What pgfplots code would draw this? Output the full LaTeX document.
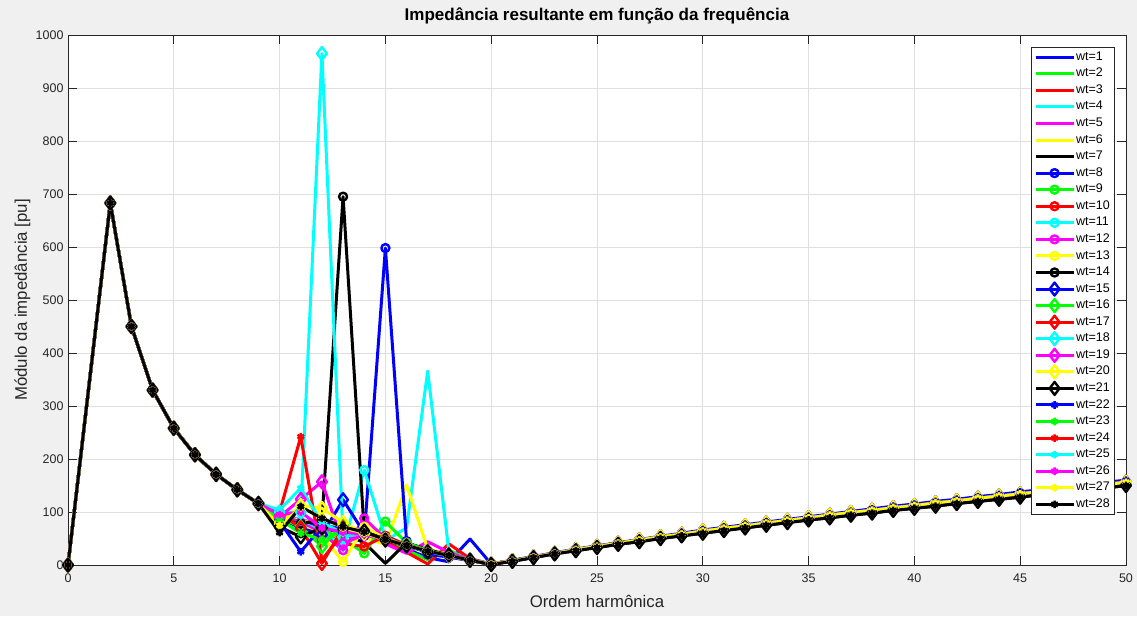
\documentclass[border=0pt]{standalone}
\usepackage{fontspec}
\setmainfont{Liberation Sans}
\usepackage{pgfplots}
\pgfplotsset{compat=1.18}

\definecolor{figbg}{RGB}{240,240,240}
\definecolor{gridc}{RGB}{223,223,223}
\definecolor{axc}{RGB}{38,38,38}
\definecolor{cB}{rgb}{0,0,1}
\definecolor{cG}{rgb}{0,1,0}
\definecolor{cR}{rgb}{1,0,0}
\definecolor{cC}{rgb}{0,1,1}
\definecolor{cM}{rgb}{1,0,1}
\definecolor{cY}{rgb}{1,1,0}
\definecolor{cK}{rgb}{0,0,0}

% Points shared by every wt case (below the resonance region and above h=20)
\def\headpts{(0,0) (2,683) (3,450) (4,330) (5,258) (6,208) (7,171) (8,142) (9,116)}
\def\tailB{(20,1) (21,7) (22,14) (23,21) (24,27) (25,33) (26,39) (27,44) (28,50) (29,55) (30,60) (31,65) (32,70) (33,75) (34,80) (35,85) (36,89) (37,94) (38,98) (39,103) (40,107) (41,111) (42,116) (43,120) (44,124) (45,128) (46,133) (47,137) (48,141) (49,145) (50,150)}
\def\tailA{(20,2) (21,8) (22,15) (23,22) (24,29) (25,35) (26,41) (27,47) (28,53) (29,58) (30,64) (31,69) (32,74) (33,79) (34,84) (35,89) (36,94) (37,99) (38,103) (39,108) (40,112) (41,117) (42,121) (43,126) (44,130) (45,134) (46,139) (47,143) (48,147) (49,152) (50,156)}
\def\tailC{(20,2) (21,9) (22,16) (23,23) (24,30) (25,36) (26,42) (27,48) (28,54) (29,60) (30,66) (31,71) (32,76) (33,81) (34,86) (35,91) (36,96) (37,101) (38,106) (39,111) (40,115) (41,120) (42,124) (43,129) (44,133) (45,138) (46,142) (47,147) (48,151) (49,156) (50,160)}

% #1 style, #2 points for h = 10..19, #3 tail, #4 legend text
\newcommand\wtplotdo[2]{\addplot[#2] coordinates {#1};}
\newcommand\wtplot[4]{%
  \edef\wtcoords{\headpts\space #2\space #3}%
  \expandafter\wtplotdo\expandafter{\wtcoords}{#1}%
  \addlegendentry{#4}}

\pgfplotsset{
  wline/.style={line width=3pt, line join=round, mark options={solid, line width=2.4pt}},
  mnone/.style={wline, mark=none},
  mo/.style={wline, mark=o, mark size=4pt},
  md/.style={wline, mark=diamond, mark size=6.5pt},
  mx/.style={wline, mark=asterisk, mark size=3.8pt},
}

\begin{document}
\begin{tikzpicture}
\fill[figbg] (-68pt,-51pt) rectangle (1069pt,565pt);
\useasboundingbox (-68pt,-51pt) rectangle (1069pt,565pt);
\begin{axis}[
  at={(0pt,0pt)}, anchor=south west,
  width=1058pt, height=530pt, scale only axis,
  xmin=0, xmax=50, ymin=0, ymax=1000,
  xtick={0,5,...,50}, ytick={0,100,...,1000},
  grid=major, major grid style={gridc, line width=0.7pt},
  axis background/.style={fill=white},
  axis line style={axc, line width=0.8pt},
  tick style={axc, line width=0.8pt}, major tick length=9pt,
  tick align=inside, xtick pos=both, ytick pos=both,
  xticklabel pos=lower, yticklabel pos=left,
  ticklabel style={font=\fontsize{12.5}{14}\selectfont, text=axc},
  /pgf/number format/assume math mode=true,
  /pgf/number format/1000 sep={},
  xticklabel style={yshift=-5pt},
  yticklabel style={xshift=-1pt},
  title={Impedância resultante em função da frequência},
  title style={font=\fontsize{17}{20}\selectfont\bfseries, at={(axis description cs:0.5,1)}, anchor=south, yshift=1pt},
  xlabel={Ordem harmônica},
  ylabel={Módulo da impedância [pu]},
  xlabel style={font=\fontsize{16.8}{19}\selectfont, text=axc, at={(axis description cs:0.5,-0.068)}, anchor=center},
  ylabel style={font=\fontsize{16.8}{19}\selectfont, text=axc, at={(axis description cs:-0.043,0.5)}, anchor=center},
  clip=false,
  legend style={at={(axis description cs:1,1)}, anchor=north east, xshift=-12pt, yshift=-12pt,
    draw=axc, fill=white, font=\fontsize{12.5}{12.5}\selectfont,
    row sep=3.56pt, inner xsep=3pt, inner ysep=3.5pt,
    nodes={inner sep=1pt, text height=8.6pt, text depth=2.4pt}},
  legend cell align=left,
  legend image code/.code={\draw[mark repeat=2, mark phase=2] plot coordinates {(0pt,0pt) (19pt,0pt) (38pt,0pt)};},
]
\wtplot{mnone, cB}{(10,90) (11,80) (12,72) (13,64) (14,55) (15,45) (16,30) (17,14) (18,6) (19,49)}{\tailA}{wt=1}
\wtplot{mnone, cG}{(10,93) (11,84) (12,75) (13,66) (14,57) (15,44) (16,28) (17,10) (18,28) (19,10)}{\tailA}{wt=2}
\wtplot{mnone, cR}{(10,95) (11,85) (12,76) (13,67) (14,57) (15,44) (16,24) (17,2) (18,40) (19,12)}{\tailA}{wt=3}
\wtplot{mnone, cC}{(10,96) (11,86) (12,77) (13,68) (14,58) (15,46) (16,70) (17,366) (18,25) (19,10)}{\tailA}{wt=4}
\wtplot{mnone, cM}{(10,94) (11,85) (12,76) (13,67) (14,56) (15,40) (16,22) (17,44) (18,24) (19,10)}{\tailA}{wt=5}
\wtplot{mnone, cY}{(10,93) (11,84) (12,75) (13,64) (14,52) (15,38) (16,151) (17,30) (18,20) (19,9)}{\tailA}{wt=6}
\wtplot{mnone, cK}{(10,91) (11,82) (12,72) (13,60) (14,42) (15,3) (16,42) (17,29) (18,19) (19,9)}{\tailA}{wt=7}
\wtplot{mo, cB}{(10,90) (11,80) (12,70) (13,60) (14,55) (15,598) (16,45) (17,20) (18,15) (19,8)}{\tailA}{wt=8}
\wtplot{mo, cG}{(10,89) (11,78) (12,66) (13,50) (14,22) (15,82) (16,42) (17,27) (18,18) (19,9)}{\tailA}{wt=9}
\wtplot{mo, cR}{(10,90) (11,77) (12,62) (13,40) (14,35) (15,55) (16,38) (17,26) (18,18) (19,9)}{\tailA}{wt=10}
\wtplot{mo, cC}{(10,91) (11,80) (12,65) (13,35) (14,179) (15,52) (16,35) (17,25) (18,17) (19,9)}{\tailA}{wt=11}
\wtplot{mo, cM}{(10,92) (11,80) (12,60) (13,28) (14,88) (15,50) (16,36) (17,26) (18,18) (19,9)}{\tailA}{wt=12}
\wtplot{mo, cY}{(10,88) (11,75) (12,55) (13,6) (14,72) (15,50) (16,37) (17,26) (18,18) (19,9)}{\tailA}{wt=13}
\wtplot{mo, cK}{(10,86) (11,78) (12,85) (13,695) (14,63) (15,48) (16,37) (17,26) (18,18) (19,9)}{\tailA}{wt=14}
\wtplot{md, cB}{(10,88) (11,70) (12,57) (13,123) (14,60) (15,48) (16,37) (17,26) (18,18) (19,9)}{\tailA}{wt=15}
\wtplot{md, cG}{(10,90) (11,72) (12,35) (13,75) (14,62) (15,49) (16,37) (17,26) (18,18) (19,9)}{\tailA}{wt=16}
\wtplot{md, cR}{(10,98) (11,70) (12,3) (13,70) (14,62) (15,49) (16,37) (17,26) (18,18) (19,9)}{\tailA}{wt=17}
\wtplot{md, cC}{(10,100) (11,100) (12,965) (13,53) (14,60) (15,48) (16,37) (17,26) (18,18) (19,9)}{\tailA}{wt=18}
\wtplot{md, cM}{(10,91) (11,124) (12,157) (13,40) (14,58) (15,48) (16,37) (17,26) (18,18) (19,9)}{\tailA}{wt=19}
\wtplot{md, cY}{(10,78) (11,112) (12,107) (13,80) (14,60) (15,48) (16,37) (17,26) (18,18) (19,9)}{\tailA}{wt=20}
\wtplot{md, cK}{(10,72) (11,53) (12,70) (13,68) (14,64) (15,47) (16,36) (17,25) (18,19) (19,9)}{\tailB}{wt=21}
\wtplot{mx, cB}{(10,82) (11,25) (12,72) (13,70) (14,62) (15,48) (16,37) (17,26) (18,18) (19,9)}{\tailC}{wt=22}
\wtplot{mx, cG}{(10,86) (11,60) (12,48) (13,65) (14,60) (15,48) (16,37) (17,26) (18,18) (19,9)}{\tailA}{wt=23}
\wtplot{mx, cR}{(10,100) (11,242) (12,10) (13,60) (14,58) (15,48) (16,37) (17,26) (18,18) (19,9)}{\tailA}{wt=24}
\wtplot{mx, cC}{(10,104) (11,145) (12,80) (13,60) (14,58) (15,48) (16,37) (17,26) (18,18) (19,9)}{\tailA}{wt=25}
\wtplot{mx, cM}{(10,95) (11,100) (12,70) (13,62) (14,58) (15,48) (16,37) (17,26) (18,18) (19,9)}{\tailA}{wt=26}
\wtplot{mx, cY}{(10,75) (11,108) (12,90) (13,70) (14,60) (15,48) (16,37) (17,26) (18,18) (19,9)}{\tailA}{wt=27}
\wtplot{mx, cK}{(10,61) (11,110) (12,88) (13,72) (14,62) (15,48) (16,37) (17,26) (18,18) (19,9)}{\tailB}{wt=28}
\end{axis}
\end{tikzpicture}
\end{document}
